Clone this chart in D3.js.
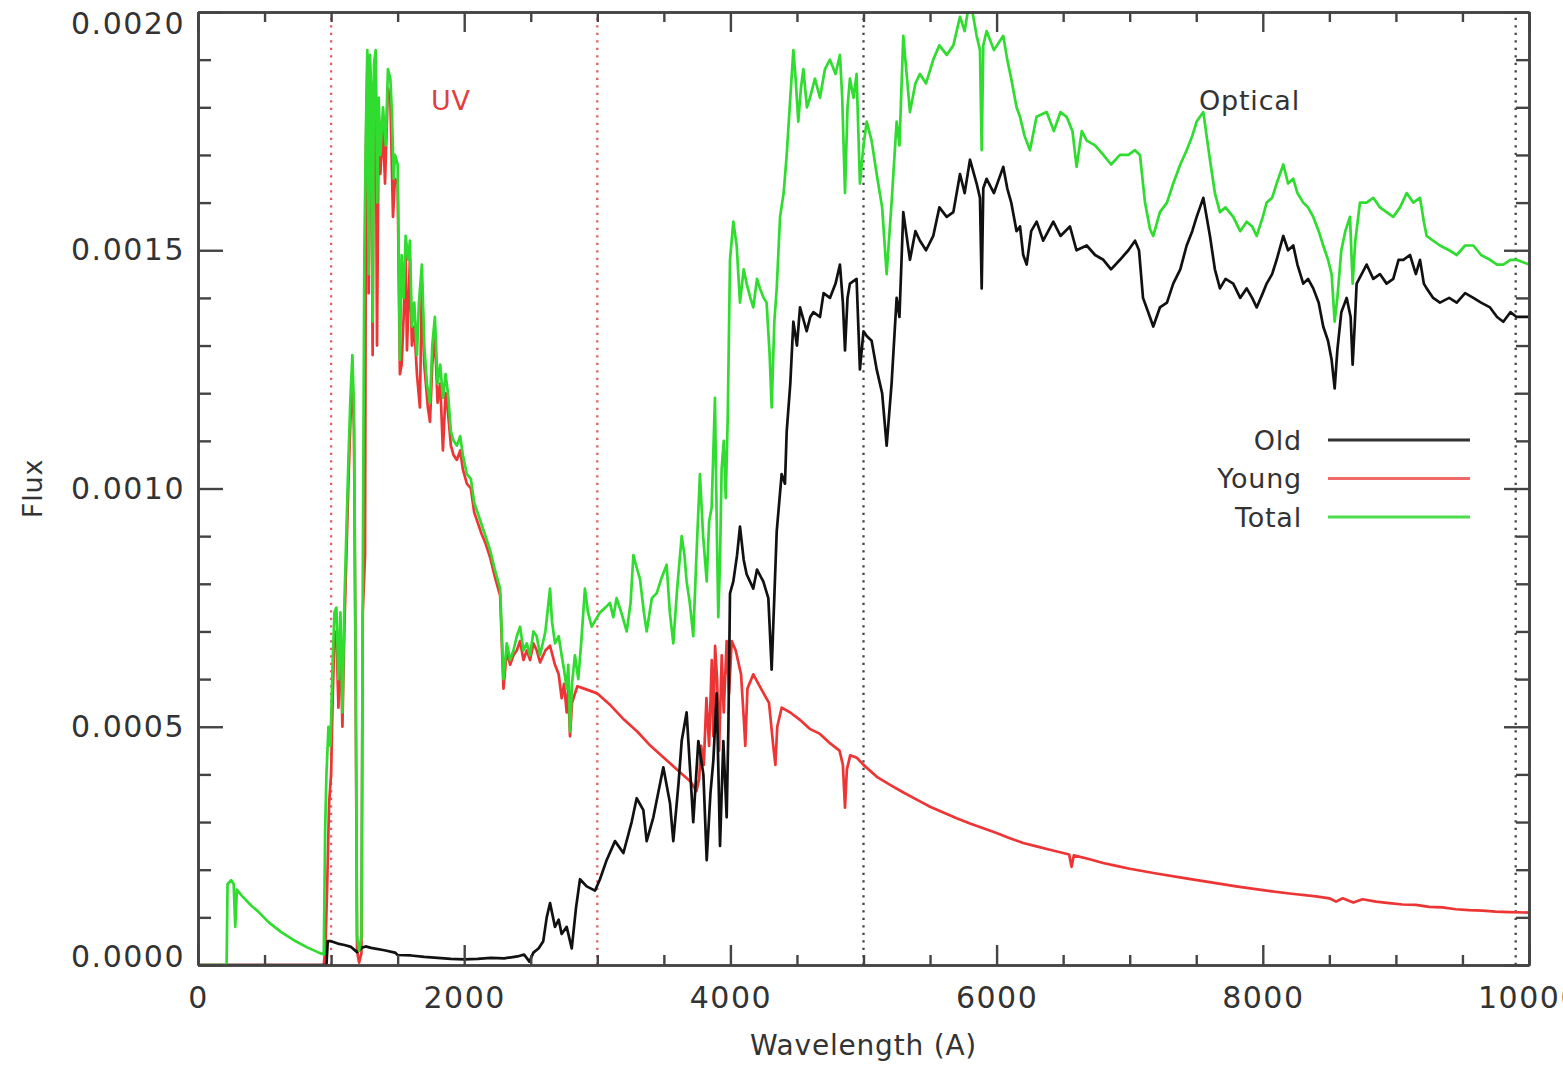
<!DOCTYPE html>
<html>
<head>
<meta charset="utf-8">
<script src="https://cdn.jsdelivr.net/npm/d3@7"></script>
<style>
  body { margin: 0; background: #fff; }
  text { font-family: "DejaVu Sans", sans-serif; fill: #333; }
</style>
</head>
<body>
<div id="chart"></div>
<script>
// Spectra: [wavelength (A), flux in units of 1e-4]
const FLUX_UNIT = 1e-4;

const youngSpec = [
  [0,0],[945,0],[958,0.4],[970,1.6],[985,3.4],[1000,4.0],[1012,5.6],[1025,6.9],[1040,7.0],[1055,5.4],[1070,6.9],[1085,5.0],
  [1100,7.1],[1115,8.6],[1130,10.1],[1145,11.4],[1160,12.4],[1172,11.2],[1185,5.6],[1195,0.3],[1210,0.05],[1228,0.25],
  [1238,7.4],[1255,8.6],[1262,17.2],[1272,18.8],[1282,14.1],[1292,18.7],[1302,18.0],[1312,12.8],[1322,18.5],[1335,18.8],
  [1345,13.0],[1358,17.8],[1370,16.6],[1390,17.6],[1405,16.4],[1427,18.4],[1445,18.2],[1465,15.7],[1480,16.5],[1500,16.4],
  [1517,12.4],[1530,12.6],[1545,13.6],[1560,14.9],[1570,12.9],[1592,14.8],[1607,13.0],[1625,13.4],[1645,12.4],[1667,11.7],
  [1682,14.3],[1700,12.6],[1727,11.7],[1743,11.4],[1760,12.6],[1780,13.2],[1800,11.8],[1820,12.2],[1840,10.8],[1860,12.0],
  [1878,11.6],[1900,10.9],[1920,10.7],[1945,10.6],[1970,10.8],[1990,10.4],[2020,10.1],[2050,10.0],[2075,9.5],[2100,9.3],
  [2130,9.05],[2160,8.85],[2195,8.55],[2230,8.15],[2270,7.75],[2295,5.8],[2320,6.6],[2345,6.3],[2370,6.5],[2395,6.6],
  [2420,6.8],[2445,6.4],[2470,6.6],[2495,6.4],[2520,6.75],[2545,6.6],[2570,6.35],[2610,6.6],[2645,6.7],[2682,6.3],
  [2710,6.1],[2732,5.6],[2750,5.9],[2770,5.3],[2782,5.8],[2795,4.8],[2810,5.5],[2850,5.85],[2900,5.8],[3000,5.7],
  [3100,5.45],[3200,5.15],[3300,4.9],[3400,4.6],[3500,4.35],[3600,4.1],[3700,3.85],[3745,3.65],[3765,3.9],[3780,4.6],
  [3800,4.2],[3820,5.6],[3840,4.6],[3860,6.4],[3872,4.8],[3885,6.7],[3900,6.0],[3915,4.5],[3935,6.5],[3950,5.3],
  [3972,6.8],[3990,5.7],[4010,6.8],[4040,6.6],[4080,6.1],[4100,5.2],[4112,4.6],[4128,5.8],[4172,6.1],[4230,5.8],
  [4290,5.5],[4322,4.6],[4338,4.2],[4352,5.0],[4385,5.4],[4450,5.3],[4520,5.15],[4600,4.95],[4673,4.85],[4750,4.65],
  [4820,4.5],[4845,4.2],[4861,3.3],[4875,4.1],[4900,4.4],[4950,4.35],[5000,4.2],[5100,3.95],[5200,3.78],[5300,3.62],
  [5400,3.47],[5500,3.32],[5600,3.2],[5700,3.08],[5800,2.97],[5900,2.87],[6000,2.77],[6100,2.66],[6200,2.56],[6300,2.49],
  [6400,2.42],[6500,2.35],[6545,2.32],[6563,2.06],[6580,2.3],[6700,2.22],[6800,2.14],[6900,2.08],[7000,2.02],[7200,1.92],
  [7400,1.83],[7600,1.74],[7800,1.65],[8000,1.57],[8200,1.5],[8400,1.44],[8500,1.4],[8550,1.33],[8600,1.4],[8680,1.31],
  [8750,1.38],[8850,1.33],[8950,1.3],[9050,1.27],[9150,1.26],[9250,1.22],[9350,1.21],[9450,1.17],[9550,1.15],[9650,1.14],
  [9750,1.12],[9850,1.11],[10000,1.1]
];

const oldSpec = [
  [0,0],[965,0],[975,0.5],[1000,0.5],[1050,0.45],[1100,0.42],[1150,0.38],[1195,0.27],[1230,0.36],[1260,0.39],[1300,0.36],
  [1400,0.31],[1480,0.26],[1500,0.21],[1600,0.2],[1700,0.17],[1800,0.15],[1900,0.13],[2000,0.12],[2100,0.13],[2200,0.15],
  [2300,0.14],[2400,0.18],[2450,0.22],[2490,0.07],[2520,0.26],[2560,0.35],[2594,0.5],[2620,1.0],[2645,1.3],[2682,0.8],
  [2710,0.95],[2732,0.65],[2770,0.8],[2808,0.35],[2840,1.2],[2870,1.8],[2920,1.65],[2983,1.56],[3020,1.8],[3070,2.2],
  [3133,2.6],[3196,2.35],[3258,3.0],[3296,3.5],[3346,3.25],[3371,2.6],[3421,3.1],[3496,4.15],[3546,3.4],[3571,2.6],
  [3610,3.8],[3634,4.7],[3671,5.3],[3696,4.15],[3721,3.0],[3759,4.7],[3797,4.0],[3822,2.2],[3850,3.6],[3872,4.3],
  [3897,5.7],[3922,2.5],[3947,4.7],[3972,3.1],[3985,5.0],[3997,7.8],[4022,8.05],[4050,8.6],[4072,9.2],[4100,8.5],
  [4122,8.2],[4172,7.9],[4200,8.3],[4247,8.05],[4285,7.7],[4310,6.2],[4348,9.1],[4385,10.3],[4410,10.1],[4423,11.2],
  [4450,12.2],[4473,13.5],[4500,13.0],[4523,13.8],[4573,13.3],[4600,13.6],[4623,13.7],[4673,13.6],[4700,14.1],[4748,14.0],
  [4790,14.3],[4823,14.7],[4845,13.9],[4861,12.9],[4880,14.0],[4898,14.3],[4948,14.4],[4973,12.5],[5000,13.3],[5024,13.2],
  [5061,13.1],[5099,12.5],[5140,12.0],[5174,10.9],[5211,12.2],[5249,14.0],[5270,13.6],[5299,15.8],[5349,14.8],[5390,15.4],
  [5424,15.2],[5470,15.0],[5524,15.3],[5570,15.9],[5625,15.7],[5675,15.8],[5725,16.6],[5760,16.2],[5800,16.9],[5850,16.4],
  [5875,16.1],[5888,14.2],[5900,16.3],[5925,16.5],[5980,16.2],[6050,16.75],[6080,16.3],[6110,16.0],[6150,15.4],[6176,15.5],
  [6200,14.9],[6226,14.7],[6260,15.4],[6301,15.6],[6350,15.2],[6426,15.6],[6480,15.3],[6551,15.5],[6600,15.0],[6677,15.1],
  [6740,14.9],[6802,14.8],[6860,14.6],[6927,14.8],[6990,15.0],[7040,15.2],[7070,15.0],[7100,14.0],[7152,13.6],[7177,13.4],
  [7227,13.8],[7280,13.9],[7327,14.3],[7380,14.6],[7428,15.1],[7470,15.4],[7503,15.7],[7553,16.1],[7603,15.3],[7640,14.6],
  [7678,14.2],[7720,14.4],[7778,14.3],[7830,14.0],[7879,14.2],[7920,14.0],[7954,13.8],[8000,14.1],[8029,14.3],[8070,14.5],
  [8104,14.8],[8154,15.3],[8190,15.0],[8229,15.1],[8260,14.7],[8304,14.3],[8340,14.4],[8379,14.2],[8420,13.9],[8454,13.4],
  [8490,13.1],[8517,12.7],[8540,12.1],[8560,12.9],[8590,13.7],[8630,14.0],[8660,13.6],[8675,12.6],[8690,13.4],[8705,14.3],
  [8780,14.7],[8830,14.4],[8880,14.5],[8930,14.3],[8980,14.4],[9020,14.8],[9056,14.8],[9106,14.9],[9150,14.5],[9181,14.8],
  [9210,14.3],[9231,14.2],[9280,14.0],[9331,13.9],[9400,14.0],[9457,13.9],[9520,14.1],[9582,14.0],[9640,13.9],[9707,13.8],
  [9760,13.6],[9807,13.5],[9860,13.7],[9907,13.6],[10000,13.6]
];

const totalSpec = [
  [0,0],[215,0],[222,1.7],[250,1.78],[268,1.7],[280,0.8],[292,1.58],[330,1.45],[400,1.25],[460,1.1],[530,0.9],[620,0.7],
  [720,0.52],[820,0.37],[900,0.27],[945,0.22],[955,2.8],[965,4.0],[980,5.0],[995,4.6],[1010,6.2],[1025,7.4],[1040,7.5],
  [1055,6.0],[1070,7.4],[1085,5.3],[1100,7.6],[1115,9.1],[1130,10.6],[1145,11.9],[1160,12.8],[1172,11.6],[1185,6.0],
  [1195,0.6],[1210,0.3],[1228,0.6],[1238,8.0],[1250,15.0],[1262,17.6],[1272,19.2],[1282,14.5],[1292,19.1],[1302,18.4],
  [1312,13.5],[1322,18.9],[1335,19.2],[1347,16.0],[1358,18.2],[1370,17.0],[1390,18.0],[1410,17.2],[1427,18.8],[1445,18.6],
  [1457,17.9],[1470,16.5],[1480,17.0],[1500,16.8],[1517,12.7],[1530,14.9],[1545,14.0],[1560,15.3],[1580,14.8],[1592,15.2],
  [1607,13.4],[1625,13.9],[1645,12.8],[1660,13.9],[1682,14.7],[1700,13.0],[1720,12.2],[1743,11.8],[1760,13.0],[1780,13.6],
  [1800,12.2],[1820,12.6],[1840,11.9],[1860,12.4],[1878,12.0],[1900,11.2],[1920,11.0],[1945,10.9],[1970,11.1],[1990,10.7],
  [2020,10.3],[2050,10.2],[2075,9.7],[2100,9.5],[2130,9.25],[2160,9.0],[2195,8.7],[2230,8.3],[2270,7.9],[2295,6.0],
  [2320,6.75],[2345,6.4],[2370,6.6],[2395,6.9],[2420,7.1],[2445,6.6],[2470,6.75],[2495,6.5],[2520,7.0],[2545,6.9],
  [2570,6.5],[2610,7.0],[2645,7.9],[2660,7.2],[2682,6.75],[2710,6.9],[2732,6.5],[2750,6.2],[2770,5.8],[2782,6.3],
  [2795,4.9],[2810,5.9],[2832,6.5],[2857,6.0],[2880,6.8],[2907,7.9],[2930,7.4],[2958,7.1],[3020,7.4],[3060,7.5],
  [3095,7.6],[3120,7.3],[3145,7.7],[3180,7.4],[3221,7.0],[3250,7.6],[3271,8.6],[3300,8.3],[3321,8.1],[3350,7.4],
  [3371,7.0],[3410,7.7],[3446,7.8],[3480,8.1],[3521,8.4],[3545,7.4],[3571,6.75],[3600,7.9],[3634,9.0],[3655,8.6],
  [3671,8.05],[3695,7.6],[3721,6.9],[3745,8.6],[3771,10.3],[3795,9.0],[3822,8.05],[3840,9.3],[3859,9.6],[3870,10.6],
  [3884,11.9],[3896,9.5],[3909,7.3],[3922,8.5],[3934,10.4],[3950,11.0],[3965,9.8],[3980,11.5],[3997,14.8],[4022,15.6],
  [4047,15.1],[4072,13.9],[4100,14.6],[4122,14.3],[4150,14.0],[4172,13.8],[4200,14.4],[4222,14.2],[4250,14.0],[4272,13.9],
  [4295,12.8],[4310,11.7],[4330,13.5],[4348,14.2],[4373,15.7],[4400,16.2],[4423,17.0],[4450,18.2],[4473,19.2],[4490,18.6],
  [4510,17.7],[4530,18.4],[4548,18.8],[4575,18.0],[4598,18.2],[4635,18.6],[4673,18.2],[4710,18.8],[4748,19.0],[4790,18.7],
  [4823,19.1],[4840,18.2],[4861,16.2],[4880,18.0],[4898,18.6],[4925,18.2],[4948,18.7],[4973,16.4],[5000,17.2],[5024,17.7],
  [5061,17.3],[5099,16.6],[5140,15.9],[5174,14.5],[5211,16.0],[5249,17.7],[5270,17.2],[5299,19.5],[5349,17.9],[5390,18.5],
  [5424,18.7],[5470,18.5],[5524,19.0],[5570,19.3],[5625,19.1],[5675,19.3],[5725,19.9],[5760,19.6],[5800,20.3],[5850,19.5],
  [5875,19.2],[5888,17.1],[5900,19.3],[5925,19.6],[5980,19.2],[6050,19.5],[6080,19.0],[6110,18.6],[6150,18.0],[6176,17.8],
  [6210,17.4],[6251,17.1],[6300,17.8],[6376,17.9],[6430,17.5],[6480,17.9],[6526,17.8],[6570,17.5],[6601,16.75],[6640,17.5],
  [6677,17.3],[6740,17.2],[6802,17.0],[6860,16.8],[6927,17.0],[6990,17.0],[7040,17.1],[7077,17.0],[7115,16.0],[7152,15.45],
  [7177,15.3],[7227,15.8],[7280,16.0],[7327,16.4],[7380,16.8],[7428,17.1],[7470,17.4],[7503,17.7],[7553,17.9],[7603,16.9],
  [7640,16.2],[7678,15.8],[7720,15.9],[7778,15.7],[7830,15.4],[7879,15.6],[7920,15.5],[7954,15.3],[8000,15.7],[8029,16.0],
  [8070,16.1],[8104,16.4],[8154,16.8],[8190,16.4],[8229,16.5],[8260,16.2],[8304,16.0],[8340,15.9],[8379,15.7],[8420,15.4],
  [8454,15.1],[8490,14.8],[8517,14.5],[8540,13.5],[8560,14.0],[8590,15.0],[8620,15.4],[8655,15.7],[8675,14.3],[8695,15.2],
  [8730,16.0],[8780,16.0],[8830,16.1],[8880,15.9],[8930,15.8],[8980,15.7],[9031,15.9],[9081,16.2],[9130,16.0],[9181,16.1],
  [9210,15.6],[9231,15.3],[9280,15.2],[9331,15.1],[9400,15.0],[9457,14.9],[9520,15.1],[9582,15.1],[9640,14.9],[9707,14.8],
  [9760,14.7],[9807,14.7],[9860,14.8],[9907,14.8],[10000,14.7]
];

const xMajor = [0, 2000, 4000, 6000, 8000, 10000];
const xMinor = d3.range(0, 10001, 500);
const yMajor = [0, 0.0005, 0.0010, 0.0015, 0.0020];
const yMinor = d3.range(0, 21).map(i => i * 0.0001);

// region markers: [wavelength, colour]
const regionLines = [[1000, "#e06060"], [3000, "#e06060"], [5000, "#444"], [9900, "#444"]];
const regionLabels = [["UV", 1900, "#e04040"], ["Optical", 7900, "#333"]];

const series = [
  { name: "Young", data: youngSpec, color: "#ee3535" },
  { name: "Old", data: oldSpec, color: "#111" },
  { name: "Total", data: totalSpec, color: "#2fdc2f" }
];
const legendItems = [
  { name: "Old", color: "#333" },
  { name: "Young", color: "#f06a6a" },
  { name: "Total", color: "#4ddc4d" }
];

const width = 1563, height = 1066;
const margin = { top: 12, right: 34, bottom: 101, left: 198 };
const innerW = width - margin.left - margin.right;
const innerH = height - margin.top - margin.bottom;

const svg = d3.select("#chart").append("svg")
  .attr("width", width).attr("height", height);

const x = d3.scaleLinear().domain([0, 10000]).range([margin.left, margin.left + innerW]);
const y = d3.scaleLinear().domain([0, 0.002]).range([margin.top + innerH, margin.top]);

svg.append("clipPath").attr("id", "plot-clip")
  .append("rect")
  .attr("x", margin.left).attr("y", margin.top)
  .attr("width", innerW).attr("height", innerH);

// dotted region lines
svg.append("g").selectAll("line")
  .data(regionLines).join("line")
  .attr("x1", d => x(d[0])).attr("x2", d => x(d[0]))
  .attr("y1", y(0)).attr("y2", y(0.002))
  .attr("stroke", d => d[1])
  .attr("stroke-width", 2.3)
  .attr("stroke-dasharray", "2.3,5.2");

// spectra
const line = d3.line()
  .x(d => x(d[0]))
  .y(d => y(d[1] * FLUX_UNIT));

svg.append("g").attr("clip-path", "url(#plot-clip)")
  .selectAll("path")
  .data(series).join("path")
  .attr("d", d => line(d.data))
  .attr("fill", "none")
  .attr("stroke", d => d.color)
  .attr("stroke-width", 2.7)
  .attr("stroke-linejoin", "round");

// axes, ticks pointing inward on all four sides
const axisStyle = g => {
  g.selectAll("path, line").attr("stroke", "#444").attr("stroke-width", 2.4);
  g.selectAll("text").attr("fill", "#333")
    .style("font-size", "30px").style("letter-spacing", "1.5px");
};
const minorX = xMinor.filter(v => !xMajor.includes(v));
const minorY = yMinor.filter(v => !yMajor.some(m => Math.abs(m - v) < 1e-9));

svg.append("g").attr("transform", `translate(0,${y(0)})`)
  .call(d3.axisBottom(x).tickValues(xMajor).tickSize(-20).tickSizeOuter(0)
    .tickPadding(22).tickFormat(d3.format("d")))
  .call(axisStyle);
svg.append("g").attr("transform", `translate(0,${y(0)})`)
  .call(d3.axisBottom(x).tickValues(minorX).tickSize(-10).tickSizeOuter(0).tickFormat(""))
  .call(axisStyle);
svg.append("g").attr("transform", `translate(0,${y(0.002)})`)
  .call(d3.axisTop(x).tickValues(xMajor).tickSize(-20).tickSizeOuter(0).tickFormat(""))
  .call(axisStyle);
svg.append("g").attr("transform", `translate(0,${y(0.002)})`)
  .call(d3.axisTop(x).tickValues(minorX).tickSize(-10).tickSizeOuter(0).tickFormat(""))
  .call(axisStyle);

const yAxisG = svg.append("g").attr("transform", `translate(${x(0)},0)`)
  .call(d3.axisLeft(y).tickValues(yMajor).tickSize(-25).tickSizeOuter(0)
    .tickPadding(13).tickFormat(d3.format(".4f")))
  .call(axisStyle);
yAxisG.selectAll(".tick text")
  .attr("dy", d => d === 0.002 ? "0.7em" : d === 0 ? "0.05em" : "0.32em");
svg.append("g").attr("transform", `translate(${x(0)},0)`)
  .call(d3.axisLeft(y).tickValues(minorY).tickSize(-13).tickSizeOuter(0).tickFormat(""))
  .call(axisStyle);
svg.append("g").attr("transform", `translate(${x(10000)},0)`)
  .call(d3.axisRight(y).tickValues(yMajor).tickSize(-25).tickSizeOuter(0).tickFormat(""))
  .call(axisStyle);
svg.append("g").attr("transform", `translate(${x(10000)},0)`)
  .call(d3.axisRight(y).tickValues(minorY).tickSize(-13).tickSizeOuter(0).tickFormat(""))
  .call(axisStyle);

svg.selectAll(".domain").attr("stroke-width", 2.6);

// axis titles
svg.append("text")
  .attr("x", (x(0) + x(10000)) / 2).attr("y", 1055)
  .attr("text-anchor", "middle")
  .style("font-size", "28px").style("letter-spacing", "0.8px")
  .text("Wavelength (A)");

svg.append("text")
  .attr("transform", `translate(42,${y(0.001)}) rotate(-90)`)
  .attr("text-anchor", "middle")
  .style("font-size", "27px").style("letter-spacing", "0.8px")
  .text("Flux");

// region labels
svg.append("g").selectAll("text")
  .data(regionLabels).join("text")
  .attr("x", d => x(d[1])).attr("y", 110)
  .attr("text-anchor", "middle")
  .style("font-size", "27px").style("letter-spacing", "0.8px")
  .style("fill", d => d[2])
  .text(d => d[0]);

// legend
const legend = svg.append("g");
legendItems.forEach((d, i) => {
  const ly = 440 + i * 38.5;
  legend.append("text")
    .attr("x", 1302).attr("y", ly).attr("dy", "0.36em")
    .attr("text-anchor", "end")
    .style("font-size", "27px").style("letter-spacing", "0.8px")
    .text(d.name);
  legend.append("line")
    .attr("x1", 1328).attr("x2", 1470)
    .attr("y1", ly).attr("y2", ly)
    .attr("stroke", d.color).attr("stroke-width", 3);
});
</script>
</body>
</html>
